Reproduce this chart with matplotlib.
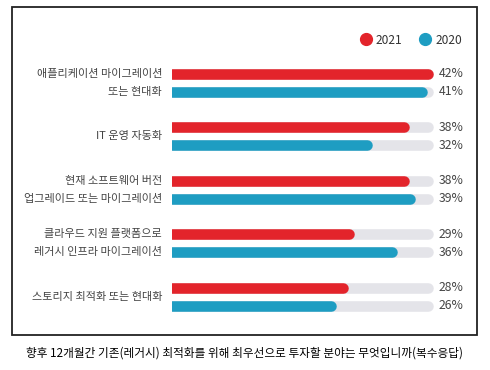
import matplotlib.pyplot as plt
from matplotlib.lines import Line2D
from matplotlib.patches import Rectangle

plt.rcParams['font.family'] = ['Noto Sans CJK KR', 'DejaVu Sans']

# 데이터
categories = ['애플리케이션 마이그레이션\n또는 현대화',
              'IT 운영 자동화',
              '현재 소프트웨어 버전\n업그레이드 또는 마이그레이션',
              '클라우드 지원 플랫폼으로\n레거시 인프라 마이그레이션',
              '스토리지 최적화 또는 현대화']
values_2021 = [42, 38, 38, 29, 28]
values_2020 = [41, 32, 39, 36, 26]
series_names = ['2021', '2020']
caption = '향후 12개월간 기존(레거시) 최적화를 위해 최우선으로 투자할 분야는 무엇입니까(복수응답)'

red = '#e3242b'
blue = '#1e9dc2'
track = '#e4e4e9'
text_col = '#444444'

W, H = 490, 370
fig = plt.figure(figsize=(W / 100, H / 100), dpi=100)
ax = fig.add_axes([172 / W, 1 - 323.5 / H, 305 / W, 267.5 / H])

off = 0.168
lw = 7.6
track_max = max(values_2021 + values_2020)
for i, (a, b) in enumerate(zip(values_2021, values_2020)):
    for y, v, c in ((i - off, a, red), (i + off, b, blue)):
        ax.plot([0, track_max], [y, y], color=track, lw=lw, solid_capstyle='round', zorder=1)
        ax.plot([0, v], [y, y], color=c, lw=lw, solid_capstyle='round', zorder=2)
        ax.text(0.957, y, f'{v}%', transform=ax.get_yaxis_transform(),
                ha='right', va='center', fontsize=8.8, color=text_col)
    lines = categories[i].split('\n')
    ys = [i - off, i + off] if len(lines) == 2 else [i]
    for y, t in zip(ys, lines):
        ax.text(-10 / 305, y, t, transform=ax.get_yaxis_transform(),
                ha='right', va='center', fontsize=8, color=text_col)

ax.set_xlim(0, 50)
ax.set_ylim(4.5, -0.5)
ax.axis('off')

handles = [Line2D([], [], marker='o', linestyle='', color=c, markersize=8.5) for c in (red, blue)]
ax.legend(handles, series_names, loc='center right', ncol=2, frameon=False,
          bbox_to_anchor=(462 / W, 1 - 40 / H), bbox_transform=fig.transFigure,
          fontsize=8.6, handlelength=0.8, handletextpad=0.45, columnspacing=1.5,
          borderpad=0, borderaxespad=0, labelcolor='#333333')

fig.patches.append(Rectangle((12 / W, 1 - 335 / H), 465 / W, 328 / H, transform=fig.transFigure,
                             fill=False, edgecolor='#222222', lw=1.3))
fig.text(244 / W, 1 - 353 / H, caption, ha='center', va='center', fontsize=8.4, color='#000000')

fig.savefig('out.png', dpi=100)
